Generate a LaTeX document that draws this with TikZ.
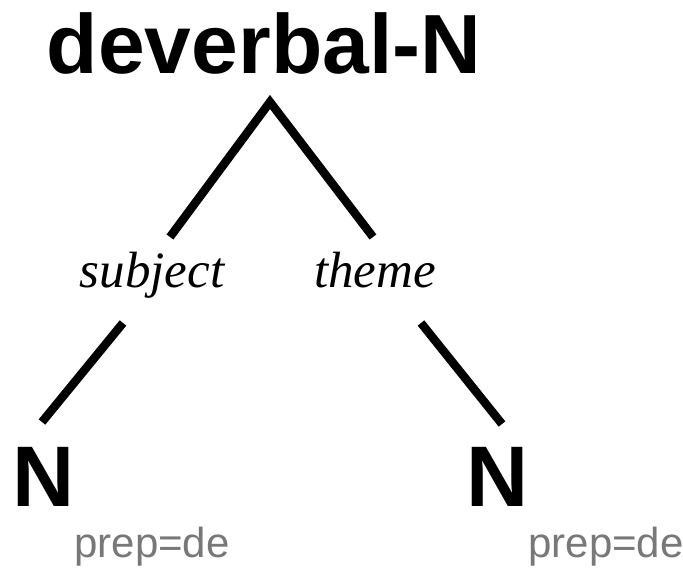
\documentclass[tikz,border=0pt]{standalone}
\usepackage{fontspec}
\setmainfont{Liberation Serif}
\setsansfont{Liberation Sans}
\definecolor{labelgray}{rgb}{0.47,0.47,0.47}
\begin{document}
\begin{tikzpicture}[x=1pt,y=-1pt,
  cat/.style={inner sep=0pt,anchor=base,font=\sffamily\bfseries\fontsize{86}{90}\selectfont},
  topcat/.style={cat,font=\sffamily\bfseries\fontsize{84}{88}\selectfont},
  role/.style={inner sep=0pt,anchor=base,font=\rmfamily\itshape\fontsize{51}{55}\selectfont},
  feat/.style={inner sep=0pt,anchor=base,text=labelgray,font=\sffamily\fontsize{42}{46}\selectfont},
  branch/.style={line width=8.5pt,line cap=butt,line join=miter}]
\useasboundingbox[fill=white] (0,0) rectangle (683,569);
\node[topcat] (top) at (264,74) {deverbal-N};
\node[role] (subj) at (152,288) {subject};
\node[role] (theme) at (375,288) {theme};
\node[cat] (nl) at (44,506) {N};
\node[cat] (nr) at (498,506) {N};
\node[feat] (pl) at (152,557) {prep=de};
\node[feat] (pr) at (606,557) {prep=de};
\coordinate (apex) at (270,102);
\coordinate (subjtop) at (170,237);
\coordinate (themetop) at (373,237);
\coordinate (subjbot) at (123,323);
\coordinate (nltop) at (42,422);
\coordinate (themebot) at (421,323);
\coordinate (nrtop) at (502,424);
\draw[branch] (subjtop) -- (apex) -- (themetop);
\draw[branch] (subjbot) -- (nltop);
\draw[branch] (themebot) -- (nrtop);
\end{tikzpicture}
\end{document}
